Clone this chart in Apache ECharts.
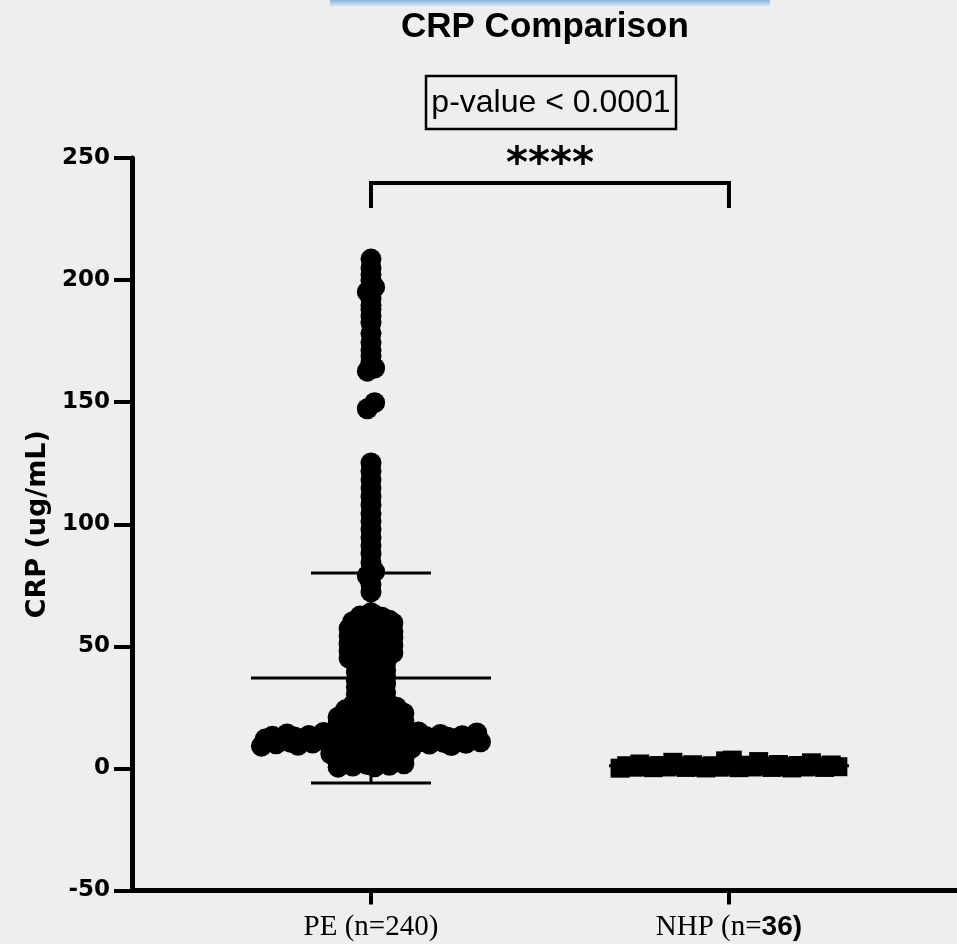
<!DOCTYPE html>
<html>
<head>
<meta charset="utf-8">
<script src="https://cdn.jsdelivr.net/npm/echarts@6/dist/echarts.min.js"></script>
<style>
  html, body { margin: 0; padding: 0; background: #eeeeee; }
  #main { width: 957px; height: 944px; }
</style>
</head>
<body>
<div id="main"></div>
<script>
var groups = ['PE', 'NHP'];
var tickLabels = ['PE (n=240)', 'NHP (n=36)'];
var yTicks = [-50, 0, 50, 100, 150, 200, 250];

// PE group, CRP ug/mL (240 points)
var peValues = [
  208.6, 204.9, 202.3, 199.8, 197.1, 195.2, 192.4, 189.7, 188.1, 185.3, 182.6, 178.2, 174.5, 171.3, 168.9, 166.2, 164.0, 162.7,
  149.8, 147.3,
  125.1, 121.7, 118.2, 114.8, 111.3, 107.9, 104.4, 101.2, 97.8, 94.6, 91.3, 87.9, 84.2, 80.6, 78.9, 75.4, 72.3,
  63.8, 62.8, 62.4, 61.9, 61.2, 60.7, 60.1, 59.8, 59.6, 59.3, 58.9, 58.3, 58.0, 57.2,
  56.9, 56.1, 55.8, 55.4, 55.0, 54.7, 54.2, 53.8, 53.5, 53.2, 52.9, 52.1, 51.6, 51.1,
  50.8, 50.3, 49.9, 49.4, 49.2, 48.6, 48.1, 47.7, 47.3, 47.0, 46.4, 46.0, 45.6, 45.2,
  44.3, 43.6, 43.1, 42.8, 42.1, 41.5, 40.7, 40.2, 39.8, 39.4, 38.9, 38.1, 37.5, 36.8, 36.0,
  35.8, 35.3, 34.7, 33.9, 33.2, 32.6, 31.8, 31.1, 30.9, 30.4, 29.8, 29.0, 28.3, 27.6, 27.1,
  26.8, 26.2, 25.9, 25.5, 25.1, 24.8, 24.3, 24.0,
  23.5, 23.3, 23.0, 22.9, 22.6, 22.2, 21.9, 21.7, 21.4, 21.0,
  20.7, 20.5, 20.3, 19.8, 19.5, 19.2, 18.9, 18.6, 18.4, 18.2,
  17.9, 17.5, 17.2, 16.9, 16.6, 16.3, 16.0, 15.7, 15.4, 15.1,
  14.9, 14.7, 14.5, 14.3, 14.1, 13.9, 13.8, 13.6, 13.5, 13.4, 13.3, 13.2, 13.1, 13.0, 12.9,
  12.9, 12.8, 12.7, 12.6, 12.6, 12.5, 12.5, 12.4, 12.4, 12.3, 12.2, 12.2, 12.1, 12.0, 12.0,
  11.9, 11.8, 11.7, 11.6, 11.6, 11.5, 11.4, 11.3, 11.3, 11.2, 11.1, 11.0, 11.0, 10.9, 10.9, 10.8,
  10.7, 10.6, 10.6, 10.5, 10.4, 10.3, 10.2, 10.1, 10.0, 9.8, 9.7, 9.5, 9.4, 9.2, 9.1,
  8.9, 8.5, 8.2, 7.9, 7.6, 7.5, 7.3, 7.0, 6.8, 6.5, 6.2, 6.0,
  5.7, 5.2, 4.9, 4.6, 4.3, 4.1, 3.8, 3.5, 3.3, 3.0,
  2.9, 2.7, 2.4, 2.2, 1.9, 1.6, 1.3, 1.0, 0.7, 0.5
];

// NHP group (36 points)
var nhpValues = [
  0.4, 0.9, 1.3, 0.2, 0.7, 1.1, 2.3, 0.5, 1.6, 0.8,
  3.4, 0.3, 1.0, 1.9, 0.6, 1.2, 0.1, 0.9, 2.8, 0.4,
  1.4, 0.7, 1.8, 0.2, 1.1, 0.6, 0.8, 0.5, 3.1, 0.3,
  1.5, 0.4, 1.0, 1.2, 2.5, 0.6
];

// mean and SD as drawn
var groupMean = [37, 1.1];
var groupSD = [43, 0.8];

var chart = echarts.init(document.getElementById('main'));

var SANS = '"Liberation Sans", Arial, sans-serif';
var WIDE = '"DejaVu Sans", sans-serif';
var SERIF = '"Liberation Serif", "Times New Roman", serif';

chart.setOption({
  backgroundColor: '#eeeeee',
  animation: false,
  title: {
    text: 'CRP Comparison',
    left: 401,
    top: 10,
    padding: 0,
    textStyle: { fontFamily: SANS, fontWeight: 'bold', fontSize: 35, color: '#000' }
  },
  grid: { left: 132, top: 158, right: 0, bottom: 53.5, containLabel: false },
  xAxis: {
    type: 'value',
    min: 0.3324,
    max: 2.637,
    splitLine: { show: false },
    axisLine: { onZero: false, lineStyle: { color: '#000', width: 5 } },
    axisTick: { customValues: [1, 2], length: 14, lineStyle: { color: '#000', width: 4 } },
    axisLabel: {
      customValues: [1, 2],
      margin: 22,
      formatter: function (v) {
        if (Math.round(v) === 1) return '{s|' + tickLabels[0] + '}';
        var t = tickLabels[1];
        var k = t.indexOf('=') + 1;
        return '{s|' + t.slice(0, k) + '}{b|' + t.slice(k) + '}';
      },
      rich: {
        s: { fontFamily: SERIF, fontSize: 29, color: '#000' },
        b: { fontFamily: SANS, fontWeight: 'bold', fontSize: 28, color: '#000' }
      }
    }
  },
  yAxis: {
    type: 'value',
    min: yTicks[0],
    max: yTicks[yTicks.length - 1],
    interval: 50,
    name: 'CRP (ug/mL)',
    nameLocation: 'middle',
    nameGap: 80,
    nameTextStyle: { fontFamily: WIDE, fontWeight: 'bold', fontSize: 27, color: '#000' },
    splitLine: { show: false },
    axisLine: { show: true, onZero: false, lineStyle: { color: '#000', width: 5 } },
    axisTick: { show: true, length: 18, lineStyle: { color: '#000', width: 4 } },
    axisLabel: { margin: 22, fontFamily: WIDE, fontWeight: 'bold', fontSize: 23, color: '#000' }
  },
  series: [{ type: 'scatter', data: [] }]
});

// pixel scale of the axes, used to lay out the dots
var px1 = chart.convertToPixel({ gridIndex: 0 }, [1, 0]);
var px2 = chart.convertToPixel({ gridIndex: 0 }, [2, 1]);
var pxPerX = px2[0] - px1[0];

// prism-style scatter: values are binned into rows, each row is spread
// side by side around the group centre
function rowLayout(values, binSize, step) {
  var bins = {};
  values.forEach(function (v, i) {
    var b = Math.floor(v / binSize);
    (bins[b] = bins[b] || []).push(i);
  });
  var out = new Array(values.length);
  Object.keys(bins).forEach(function (b) {
    var idx = bins[b].slice().sort(function (p, q) { return values[p] - values[q]; });
    var n = idx.length;
    var slots = idx.map(function (_, k) { return k; });
    slots.sort(function (p, q) { return ((p * 0.618034) % 1) - ((q * 0.618034) % 1); });
    idx.forEach(function (i, k) {
      out[i] = (slots[k] - (n - 1) / 2) * step;
    });
  });
  return out;
}

var peOff = rowLayout(peValues, 3, 7.3);
var nhpOff = rowLayout(nhpValues, 3, 6.6);
var peData = peValues.map(function (v, i) { return [1 + peOff[i] / pxPerX, v]; });
var nhpData = nhpValues.map(function (v, i) { return [2 + nhpOff[i] / pxPerX, v]; });
var barData = groups.map(function (g, i) { return [i + 1, groupMean[i], groupSD[i]]; });

var xPE = px1[0];
var xNHP = px2[0];

chart.setOption({
  series: [{
    name: groups[0],
    type: 'scatter',
    symbol: 'circle',
    symbolSize: 21,
    itemStyle: { color: '#000', opacity: 1 },
    data: peData,
    z: 3
  }, {
    name: groups[1],
    type: 'scatter',
    symbol: 'rect',
    symbolSize: 19,
    itemStyle: { color: '#000', opacity: 1 },
    data: nhpData,
    z: 3
  }, {
    type: 'custom',
    z: 4,
    data: barData,
    renderItem: function (params, api) {
      var x = api.value(0), m = api.value(1), s = api.value(2);
      var c = api.coord([x, m]);
      var t = api.coord([x, m + s]);
      var b = api.coord([x, m - s]);
      var st = { stroke: '#000', lineWidth: 3 };
      return {
        type: 'group',
        children: [
          { type: 'line', shape: { x1: c[0] - 120, y1: c[1], x2: c[0] + 120, y2: c[1] }, style: st },
          { type: 'line', shape: { x1: t[0], y1: t[1], x2: b[0], y2: b[1] }, style: st },
          { type: 'line', shape: { x1: t[0] - 60, y1: t[1], x2: t[0] + 60, y2: t[1] }, style: st },
          { type: 'line', shape: { x1: b[0] - 60, y1: b[1], x2: b[0] + 60, y2: b[1] }, style: st }
        ]
      };
    }
  }],
  graphic: [
    {
      type: 'rect', left: 330, top: 0, z: 0,
      shape: { width: 440, height: 7 },
      style: {
        fill: new echarts.graphic.LinearGradient(0, 0, 0, 1, [
          { offset: 0, color: 'rgba(120,170,225,0.85)' },
          { offset: 1, color: 'rgba(120,170,225,0)' }
        ])
      }
    },
    {
      type: 'rect', z: 10,
      shape: { x: 426, y: 76, width: 250, height: 53 },
      style: { fill: 'none', stroke: '#000', lineWidth: 2.5 }
    },
    {
      type: 'text', z: 10, x: 551, y: 103,
      style: { text: 'p-value < 0.0001', fontFamily: SANS, fontSize: 32, fill: '#000', align: 'center', verticalAlign: 'middle' }
    },
    {
      type: 'text', z: 10, x: (xPE + xNHP) / 2, y: 166,
      style: { text: '****', fontFamily: WIDE, fontWeight: 'bold', fontSize: 42, fill: '#000', align: 'center', verticalAlign: 'middle' }
    },
    {
      type: 'polyline', z: 10,
      shape: { points: [[xPE, 208], [xPE, 183], [xNHP, 183], [xNHP, 208]] },
      style: { stroke: '#000', lineWidth: 4, fill: 'none' }
    }
  ]
});
</script>
</body>
</html>
